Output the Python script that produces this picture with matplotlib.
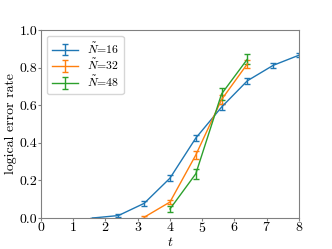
import matplotlib
matplotlib.use("Agg")
import matplotlib.pyplot as plt

plt.rcParams['font.family'] = 'serif'
plt.rcParams['font.serif'] = ['cmr10']
plt.rcParams['mathtext.fontset'] = 'cm'
plt.rcParams['axes.formatter.use_mathtext'] = True
plt.rcParams['axes.unicode_minus'] = False

t16 = [1.6, 2.4, 3.2, 4.0, 4.8, 5.6, 6.4, 7.2, 8.0]
p16 = [0.0, 0.013, 0.078, 0.212, 0.425, 0.59, 0.73, 0.812, 0.866]
e16 = [0.001, 0.006, 0.012, 0.015, 0.018, 0.018, 0.016, 0.014, 0.012]

t32 = [3.2, 4.0, 4.8, 5.6, 6.4]
p32 = [0.004, 0.085, 0.335, 0.63, 0.82]
e32 = [0.004, 0.012, 0.02, 0.022, 0.02]

t48 = [4.0, 4.8, 5.6, 6.4]
p48 = [0.048, 0.235, 0.66, 0.845]
e48 = [0.015, 0.028, 0.03, 0.028]

labels = [r'$\tilde{N}$=16', r'$\tilde{N}$=32', r'$\tilde{N}$=48']

fig = plt.figure(figsize=(3.32, 2.49), dpi=100)
ax = fig.add_axes([0.1235, 0.1245, 0.777, 0.755])
for t, p, e, lab in [(t16, p16, e16, labels[0]), (t32, p32, e32, labels[1]), (t48, p48, e48, labels[2])]:
    ax.errorbar(t, p, yerr=e, capsize=2, lw=1, elinewidth=1, label=lab)

ax.set_xlim(0, 8)
ax.set_ylim(0, 1)
ax.set_xticks(range(0, 9))
ax.set_yticks([0, 0.2, 0.4, 0.6, 0.8, 1.0])
ax.set_yticklabels(['0.0', '0.2', '0.4', '0.6', '0.8', '1.0'])
ax.set_xlabel(r'$t$', fontsize=10, labelpad=0.5)
ax.set_ylabel('logical error rate', fontsize=10, labelpad=2)
ax.tick_params(labelsize=10, length=2, color='#808080', pad=0.5)
for s in ax.spines.values():
    s.set_color('#808080')
leg = ax.legend(loc='upper left', fontsize=8.5, handlelength=2.2, borderpad=0.4, labelspacing=0.15)
fig.savefig('out.png', dpi=100)
